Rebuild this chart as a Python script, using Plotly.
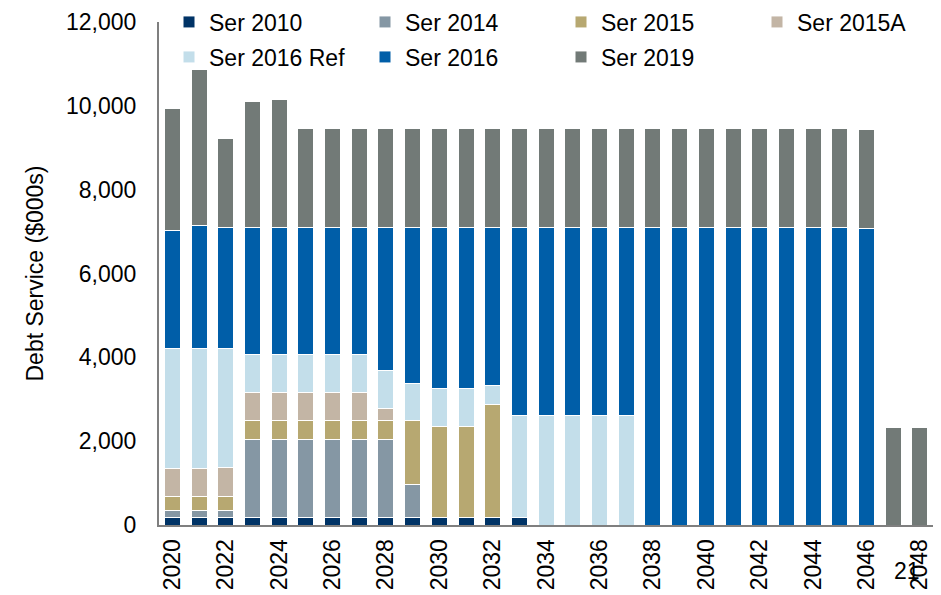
import plotly.graph_objects as go

years = list(range(2020, 2050))

ser_2010 = [190] * 14 + [0] * 16
ser_2014 = [150, 150, 160, 1855, 1855, 1855, 1855, 1855, 1855, 772] + [0] * 20
ser_2015 = [340, 340, 340, 445, 445, 445, 445, 445, 445, 1520, 2166, 2157, 2682] + [0] * 17
ser_2015a = [670, 670, 670, 668, 668, 668, 668, 668, 295] + [0] * 21
ser_2016_ref = [2860, 2860, 2860, 916, 916, 916, 916, 916, 891, 900, 890, 899, 453, 2428,
                2618, 2618, 2618, 2618] + [0] * 12
ser_2016 = [2815, 2927, 2887, 3023, 3023, 3023, 3023, 3023, 3421, 3715, 3851, 3851, 3772, 4479,
            4479, 4479, 4479, 4479, 7097, 7097, 7097, 7097, 7097, 7097, 7097, 7097, 7073, 0, 0, 0]
ser_2019 = [2921, 3740, 2117, 3008, 3064] + [2372] * 21 + [2367, 2323, 2323, 2323]

series_names = ["Ser 2010", "Ser 2014", "Ser 2015", "Ser 2015A", "Ser 2016 Ref", "Ser 2016", "Ser 2019"]
series_values = [ser_2010, ser_2014, ser_2015, ser_2015a, ser_2016_ref, ser_2016, ser_2019]
series_colors = ["#003366", "#8597A4", "#B7A871", "#C3B5A5", "#C3DEEA", "#005EA8", "#727A77"]
series_legend = ["legend", "legend", "legend", "legend", "legend2", "legend2", "legend2"]

tick_years = list(range(2020, 2049, 2))

FONT = "Liberation Sans, Arial, sans-serif"
FS = 23

fig = go.Figure()
for name, vals, col, lg in zip(series_names, series_values, series_colors, series_legend):
    fig.add_trace(go.Bar(
        x=years, y=vals, name=name, legend=lg,
        marker=dict(color=col, line=dict(color="white", width=1)),
    ))

# page body has an 8px default margin; size the figure so it fills the 941x595 window
OFF = 8
W, H = 941 - OFF, 595 - OFF
L, R, T, B = 159 - OFF, 0, 22 - OFF, 70
pw = W - L - R
ph = H - T - B

legend_common = dict(
    orientation="h", xanchor="left", yanchor="middle",
    entrywidth=151, entrywidthmode="pixels", itemwidth=30,
    font=dict(family=FONT, size=FS, color="#000000"),
    bgcolor="rgba(0,0,0,0)", traceorder="normal",
)

def px_x(x):
    return (x - OFF - L) / pw

def px_y(y):
    return (H - B - (y - OFF)) / ph

fig.update_layout(
    width=W, height=H,
    margin=dict(l=L, r=R, t=T, b=B, autoexpand=False),
    paper_bgcolor="white", plot_bgcolor="white",
    barmode="stack", bargap=0.4,
    font=dict(family=FONT, size=FS, color="#000000"),
    legend=dict(x=px_x(169), y=px_y(22), **legend_common),
    legend2=dict(x=px_x(169), y=px_y(57), **legend_common),
    xaxis=dict(
        range=[2019.5, 2019.5 + pw / 26.7],
        tickmode="array", tickvals=tick_years, ticktext=[str(y) for y in tick_years],
        tickangle=-90, ticks="", showgrid=False, zeroline=False,
        showline=True, linecolor="#7F7F7F", linewidth=2,
        ticklabelstandoff=3,
        tickfont=dict(family=FONT, size=FS, color="#000000"),
    ),
    yaxis=dict(
        range=[0, 12000], tickmode="linear", tick0=0, dtick=2000, tickformat=",",
        ticks="", showgrid=False, zeroline=False,
        showline=True, linecolor="#7F7F7F", linewidth=2,
        ticklabelstandoff=16,
        tickfont=dict(family=FONT, size=FS, color="#000000"),
        title=dict(text="Debt Service ($000s)", standoff=16,
                   font=dict(family=FONT, size=FS, color="#000000")),
    ),
    annotations=[dict(
        text="21", x=px_x(907), y=px_y(571), xref="paper", yref="paper",
        showarrow=False, xanchor="center", yanchor="middle",
        font=dict(family=FONT, size=FS, color="#000000"),
    )],
)

fig.write_html("out.html")
